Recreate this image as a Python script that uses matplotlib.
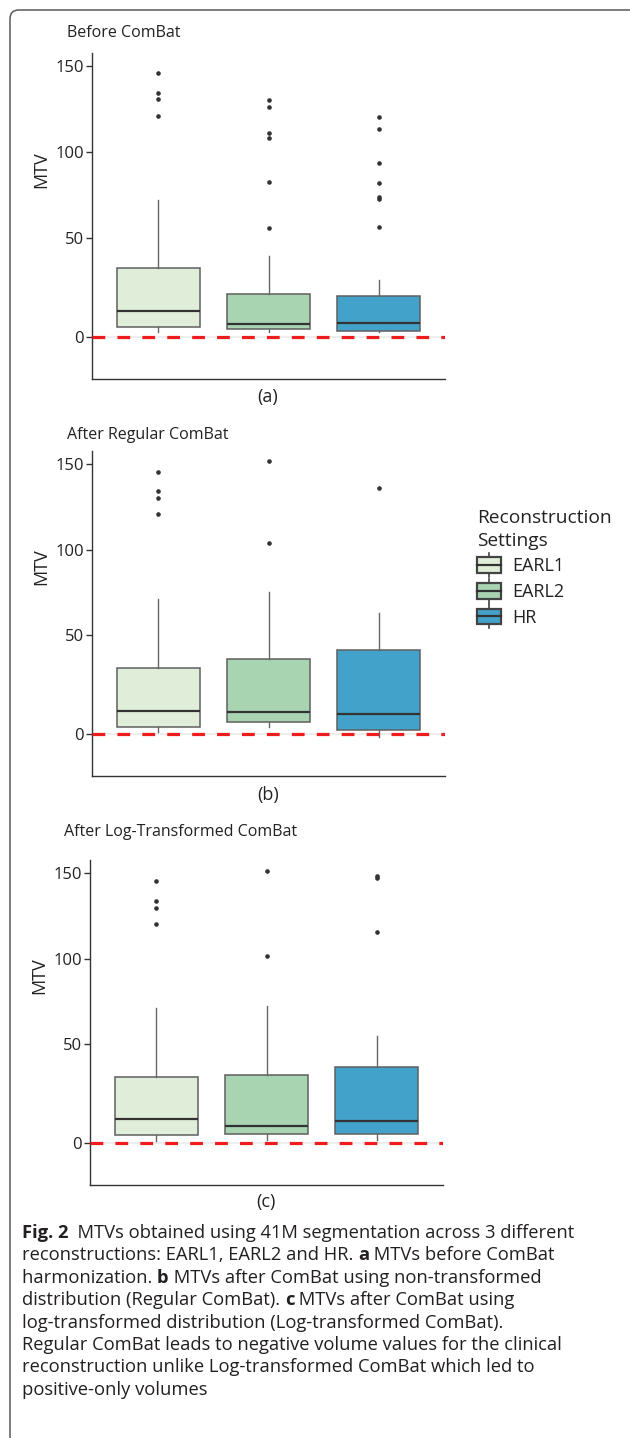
import numpy as np
import matplotlib
matplotlib.use("Agg")
import matplotlib.pyplot as plt
from matplotlib.patches import Rectangle, FancyBboxPatch
from matplotlib.lines import Line2D
from matplotlib.legend_handler import HandlerBase

plt.rcParams['font.family'] = ['Open Sans', 'DejaVu Sans']

# ---- data ----
groups = ['EARL1', 'EARL2', 'HR']
colors = ['#e0eed9', '#a8d4b2', '#43a2ca']
titles = ['Before ComBat', 'After Regular ComBat', 'After Log-Transformed ComBat']
sub_labels = ['(a)', '(b)', '(c)']

a_lo = [2.5, 2.5, 2.5]
a_q1 = [5.4, 4.2, 3.4]
a_med = [13.4, 6.9, 7.2]
a_q3 = [35.1, 21.8, 21.0]
a_hi = [72.0, 40.9, 28.9]
a_out = [[145.6, 134.0, 130.5, 120.8],
         [130.1, 126.3, 110.8, 108.3, 82.3, 55.6],
         [120.4, 113.3, 93.4, 82.1, 73.6, 72.5, 56.2]]

b_lo = [1.0, 3.9, -1.2]
b_q1 = [3.7, 6.5, 2.0]
b_med = [11.9, 11.2, 10.4]
b_q3 = [33.4, 37.9, 42.6]
b_hi = [71.4, 75.2, 63.0]
b_out = [[145.5, 134.0, 130.2, 120.5], [151.4, 104.0], [135.8]]

c_lo = [1.3, 1.7, 1.7]
c_q1 = [4.2, 4.5, 4.5]
c_med = [12.2, 8.9, 11.4]
c_q3 = [33.6, 34.7, 38.8]
c_hi = [71.4, 72.3, 54.7]
c_out = [[145.0, 133.7, 129.6, 120.3], [151.2, 101.8], [148.3, 147.0, 115.6]]

panels = [(a_lo, a_q1, a_med, a_q3, a_hi, a_out),
          (b_lo, b_q1, b_med, b_q3, b_hi, b_out),
          (c_lo, c_q1, c_med, c_q3, c_hi, c_out)]

caption = [
    [("Fig. 2", True), ("  MTVs obtained using 41M segmentation across 3 different", False)],
    [("reconstructions: EARL1, EARL2 and HR. ", False), ("a", True), (" MTVs before ComBat", False)],
    [("harmonization. ", False), ("b", True), (" MTVs after ComBat using non-transformed", False)],
    [("distribution (Regular ComBat). ", False), ("c", True), (" MTVs after ComBat using", False)],
    [("log-transformed distribution (Log-transformed ComBat).", False)],
    [("Regular ComBat leads to negative volume values for the clinical", False)],
    [("reconstruction unlike Log-transformed ComBat which led to", False)],
    [("positive-only volumes", False)],
]

# the original y axis is stretched below 50
K = 298 / 258.0
def fwd(v):
    v = np.asarray(v, dtype=float)
    return np.where(v >= 50, v, 50 - (50 - v) * K)
def inv(u):
    u = np.asarray(u, dtype=float)
    return np.where(u >= 50, u, 50 - (50 - u) / K)

W, H = 630, 1438
fig = plt.figure(figsize=(W / 100, H / 100), dpi=100)

def px(x0, y0, x1, y1):
    return [x0 / W, 1 - y1 / H, (x1 - x0) / W, (y1 - y0) / H]

axes_px = [(92, 53, 445, 379), (92, 451, 445, 776), (90, 860, 443, 1185)]
title_pos = [(67, 33), (67, 435), (64, 832)]
sub_pos = [(268, 397), (268, 795), (266, 1202)]

for i, (lo, q1, med, q3, hi, out) in enumerate(panels):
    ax = fig.add_axes(px(*axes_px[i]))
    ax.set_yscale('function', functions=(fwd, inv))
    stats = []
    for j in range(3):
        stats.append(dict(whislo=lo[j], q1=q1[j], med=med[j], q3=q3[j],
                          whishi=hi[j], fliers=out[j]))
    ax.axhline(0, color='#ebebeb', lw=1.2, zorder=0)
    bp = ax.bxp(stats, positions=[1, 2, 3], widths=0.75, patch_artist=True,
                showcaps=False,
                boxprops=dict(edgecolor='#5f5f5f', linewidth=1.1),
                medianprops=dict(color='#333333', linewidth=1.6),
                whiskerprops=dict(color='#666666', linewidth=1.0),
                flierprops=dict(marker='o', markersize=2.3, markerfacecolor='#333333',
                                markeredgecolor='#333333'))
    for patch, c in zip(bp['boxes'], colors):
        patch.set_facecolor(c)
    ax.axhline(0, color='#ee1c1c', lw=2.3, ls=(0, (4.0, 3.8)), zorder=5)
    ax.set_xlim(0.4, 3.6)
    ax.set_ylim(-21, 157.5)
    ax.set_yticks([0, 50, 100, 150])
    ax.set_yticklabels(['0', '50', '100', '150'])
    ax.minorticks_off()
    ax.set_xticks([])
    for s in ['top', 'right']:
        ax.spines[s].set_visible(False)
    for s in ['left', 'bottom']:
        ax.spines[s].set_color('#333333')
        ax.spines[s].set_linewidth(1.0)
    ax.tick_params(axis='y', length=4, width=1.0, color='#333333', labelsize=12,
                   labelcolor='#222222', pad=2)
    ax.set_ylabel('MTV', fontsize=13, color='#222222')
    ax.yaxis.set_label_coords(-0.118, 0.643)
    fig.text(title_pos[i][0] / W, 1 - title_pos[i][1] / H, titles[i],
             fontsize=11.5, color='#222222', ha='left', va='center')
    fig.text(sub_pos[i][0] / W, 1 - sub_pos[i][1] / H, sub_labels[i],
             fontsize=13, color='#222222', ha='center', va='center')


class BoxHandler(HandlerBase):
    def create_artists(self, legend, orig_handle, xdescent, ydescent,
                       width, height, fontsize, trans):
        x0, y0 = -xdescent, -ydescent
        bh = height * 1.0
        by = y0 + (height - bh) / 2
        rect = Rectangle((x0, by), width, bh, facecolor=orig_handle.get_facecolor(),
                         edgecolor='#444444', lw=1.6, transform=trans)
        cx = x0 + width / 2
        med = Line2D([x0, x0 + width], [by + bh / 2] * 2, color='#333333', lw=1.6,
                     transform=trans)
        w1 = Line2D([cx, cx], [by + bh, by + bh + 3], color='#444444', lw=1.2,
                    transform=trans)
        w2 = Line2D([cx, cx], [by, by - 3], color='#444444', lw=1.2, transform=trans)
        return [w1, w2, rect, med]

handles = [Rectangle((0, 0), 1, 1, facecolor=c) for c in colors]
leg = fig.legend(handles, groups, loc='upper left',
                 bbox_to_anchor=(477 / W, 1 - 509 / H), frameon=False,
                 title='Reconstruction\nSettings', alignment='left',
                 handler_map={Rectangle: BoxHandler()},
                 fontsize=13, title_fontsize=13.8, handlelength=1.35, handleheight=0.95,
                 handletextpad=0.62, labelspacing=0.42, borderpad=0, borderaxespad=0)
for t in leg.get_texts():
    t.set_color('#222222')
leg.get_title().set_color('#222222')
leg.get_title().set_linespacing(1.35)

# caption with bold bits, chained piece by piece
cap_ax = fig.add_axes([0, 0, 1, 1], zorder=-1)
cap_ax.set_axis_off()
y = 1238
for line in caption:
    prev = None
    for txt, bold in line:
        w = 'bold' if bold else 'normal'
        if prev is None:
            prev = cap_ax.annotate(txt, xy=(22 / W, 1 - y / H), xycoords='figure fraction',
                                   ha='left', va='baseline', fontsize=13.2,
                                   fontweight=w, color='#231f20')
        else:
            prev = cap_ax.annotate(txt, xy=(1, 0), xycoords=prev, ha='left', va='bottom',
                                   fontsize=13.2, fontweight=w, color='#231f20')
    y += 22.4

# rounded frame around the whole figure, running off right/bottom edges
frame = FancyBboxPatch((10 / W, 1 - 1450 / H), 630 / W, 1440 / H,
                       boxstyle='round,pad=0,rounding_size=0.014',
                       transform=fig.transFigure, facecolor='none',
                       edgecolor='#5a5a5a', lw=1.1, mutation_aspect=W / H)
fig.add_artist(frame)

fig.savefig('out.png', dpi=100)
